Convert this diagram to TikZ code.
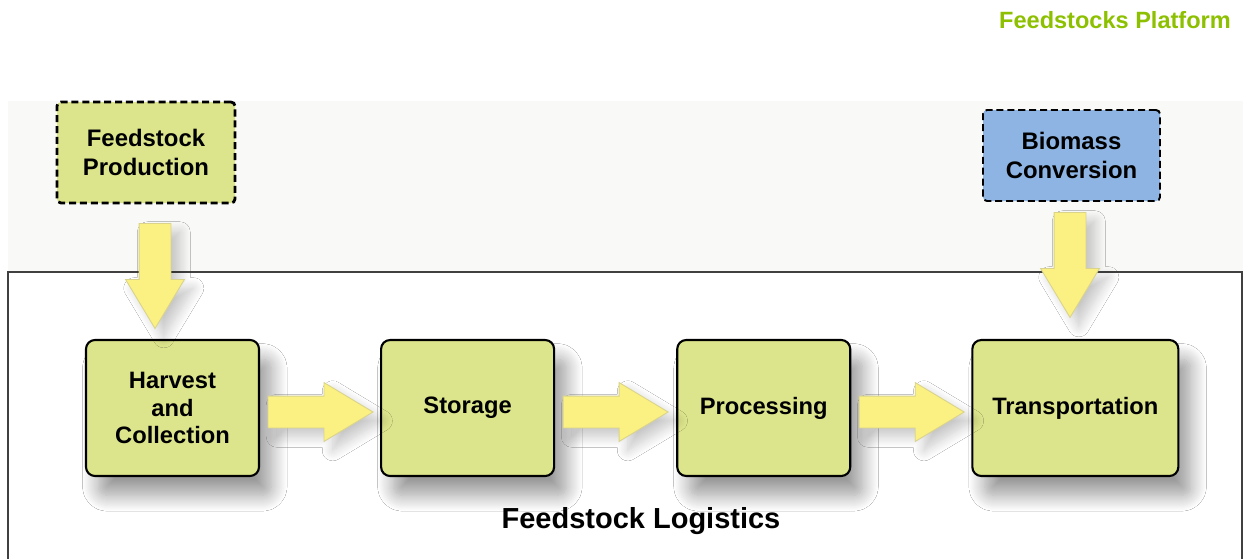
\documentclass[tikz,border=0pt]{standalone}
\usepackage{fontspec}
\setmainfont{Liberation Sans}
\usetikzlibrary{positioning,shapes.arrows,shadows.blur}

\definecolor{boxgreen}{HTML}{DDE58C}
\definecolor{boxblue}{HTML}{8DB4E3}
\definecolor{arrowfill}{HTML}{FBF082}
\definecolor{arrowedge}{HTML}{D9D38C}
\definecolor{titlegreen}{HTML}{8CC000}
\definecolor{bandgray}{HTML}{F9F9F7}

\begin{document}
\begin{tikzpicture}[
  box/.style={draw,rounded corners=0.18cm,line width=1.2pt,fill=boxgreen,
    minimum width=3.46cm,minimum height=2.72cm,align=center,
    font=\fontsize{13.5}{15.6}\selectfont\bfseries,
    blur shadow={shadow xshift=7pt,shadow yshift=-11pt,shadow blur radius=9pt,
      shadow blur steps=16,shadow opacity=40}},
  topbox/.style={draw,dash pattern=on 4pt off 2.2pt,rounded corners=0.08cm,align=center,
    font=\fontsize{13.6}{16.5}\selectfont\bfseries},
  blockarrow/.style={single arrow,fill=arrowfill,draw=arrowedge,line width=0.5pt,
    inner sep=0.31cm,single arrow head extend=0.27cm,
    single arrow tip angle=62,minimum height=2.1cm,
    blur shadow={shadow xshift=5pt,shadow yshift=-5pt,shadow blur radius=6pt,
      shadow blur steps=12,shadow opacity=22}}]
\useasboundingbox (0,0) rectangle (24.86,-11.16);

% background band and logistics panel
\fill[bandgray] (0.16,-2.02) rectangle (24.86,-5.44);
\fill[white] (0.16,-5.44) rectangle (24.84,-11.3);
\draw[line width=0.9pt,black!75] (0.16,-11.3) |- (24.84,-5.44) -- (24.84,-11.3);

\node[anchor=east,text=titlegreen,font=\fontsize{13.4}{16}\selectfont\bfseries] (title) at (24.74,-0.40) {Feedstocks Platform};

\node[topbox,fill=boxgreen,line width=1.6pt,minimum width=3.56cm,minimum height=2.02cm] (fp) at (2.92,-3.05) {Feedstock\\Production};
\node[topbox,fill=boxblue,line width=1.1pt,minimum width=3.54cm,minimum height=1.82cm] (bc) at (21.43,-3.11) {Biomass\\Conversion};

\node[box] (hc) at (3.45,-8.16) {Harvest\\and\\Collection};
\node[box,right=2.4cm of hc] (st) {Storage};
\node[box,right=2.42cm of st] (pr) {Processing};
\node[box,right=2.4cm of pr,minimum width=4.12cm] (tr) {Transportation};

\node[blockarrow,shape border rotate=270,anchor=tail] (d1) at (3.10,-4.46) {};
\node[blockarrow,shape border rotate=270,anchor=tail] (d2) at (21.40,-4.24) {};
\node[blockarrow,right=0.15cm of hc,yshift=-0.08cm] (a1) {};
\node[blockarrow,right=0.15cm of st,yshift=-0.08cm] (a2) {};
\node[blockarrow,right=0.15cm of pr,yshift=-0.08cm] (a3) {};

\node[font=\fontsize{16.5}{19}\selectfont\bfseries] (fl) at (12.82,-10.42) {Feedstock Logistics};
\end{tikzpicture}
\end{document}
